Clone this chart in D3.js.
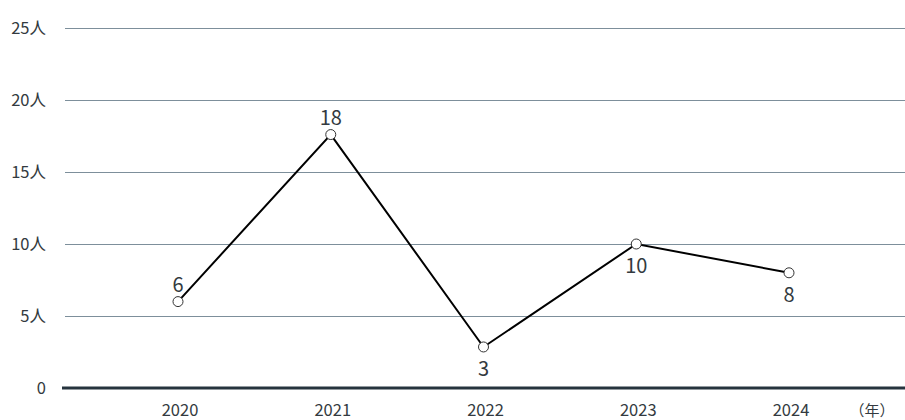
<!DOCTYPE html>
<html><head><meta charset="utf-8">
<script src="https://cdn.jsdelivr.net/npm/d3@7"></script>
<style>body{margin:0;background:#fff;font-family:"Noto Sans CJK JP","Noto Sans",sans-serif;}</style>
</head><body><svg id="c" width="905" height="420"></svg>
<script>
const years = ["2020","2021","2022","2023","2024"];
const values = [6, 17.6, 2.85, 10, 8];
const valueLabels = ["6","18","3","10","8"];
const labelAbove = [true, true, false, false, false];
const yTicks = [0,5,10,15,20,25];
const yTickLabels = ["0","5人","10人","15人","20人","25人"];
const unitLabel = "（年）";

const svg = d3.select("#c");
const x = d3.scalePoint().domain(years).range([178, 789]);
const y = d3.scaleLinear().domain([0,25]).range([388, 28]);
const font = '"Noto Sans CJK JP","Noto Sans",sans-serif';

// gridlines
svg.append("g").selectAll("line").data(yTicks.filter(d=>d>0)).join("line")
  .attr("x1",65).attr("x2",905).attr("y1",d=>y(d)+0.5).attr("y2",d=>y(d)+0.5)
  .attr("stroke","#7d8f9b").attr("stroke-width",1);
// baseline
svg.append("line").attr("x1",62).attr("x2",905).attr("y1",y(0)).attr("y2",y(0))
  .attr("stroke","#26343e").attr("stroke-width",3);

// y tick labels
svg.append("g").selectAll("text").data(yTicks).join("text")
  .attr("x",46).attr("y",d=>y(d)).attr("dy","0.35em")
  .attr("text-anchor","end").attr("font-family",font).attr("font-size",16.5)
  .attr("fill","#333a40").text((d,i)=>yTickLabels[i]);

// x labels
svg.append("g").selectAll("text").data(years).join("text")
  .attr("x",d=>x(d)+2).attr("y",416)
  .attr("text-anchor","middle").attr("font-family",font).attr("font-size",16.5)
  .attr("fill","#333a40").text(d=>d);
svg.append("text").attr("x",872).attr("y",416).attr("text-anchor","middle")
  .attr("font-family",font).attr("font-size",15).attr("fill","#333a40").text(unitLabel);

// line
const line = d3.line().x((d,i)=>x(years[i])).y(d=>y(d));
svg.append("path").datum(values).attr("d",line).attr("fill","none")
  .attr("stroke","#000").attr("stroke-width",2);

svg.append("g").selectAll("circle").data(values).join("circle")
  .attr("cx",(d,i)=>x(years[i])).attr("cy",d=>y(d)).attr("r",5)
  .attr("fill","#fff").attr("stroke","#333").attr("stroke-width",1);

svg.append("g").selectAll("text").data(values).join("text")
  .attr("x",(d,i)=>x(years[i])).attr("y",(d,i)=>labelAbove[i]? y(d)-10 : y(d)+29)
  .attr("text-anchor","middle").attr("font-family",font).attr("font-size",20)
  .attr("fill","#333a40").text((d,i)=>valueLabels[i]);
</script></body></html>
